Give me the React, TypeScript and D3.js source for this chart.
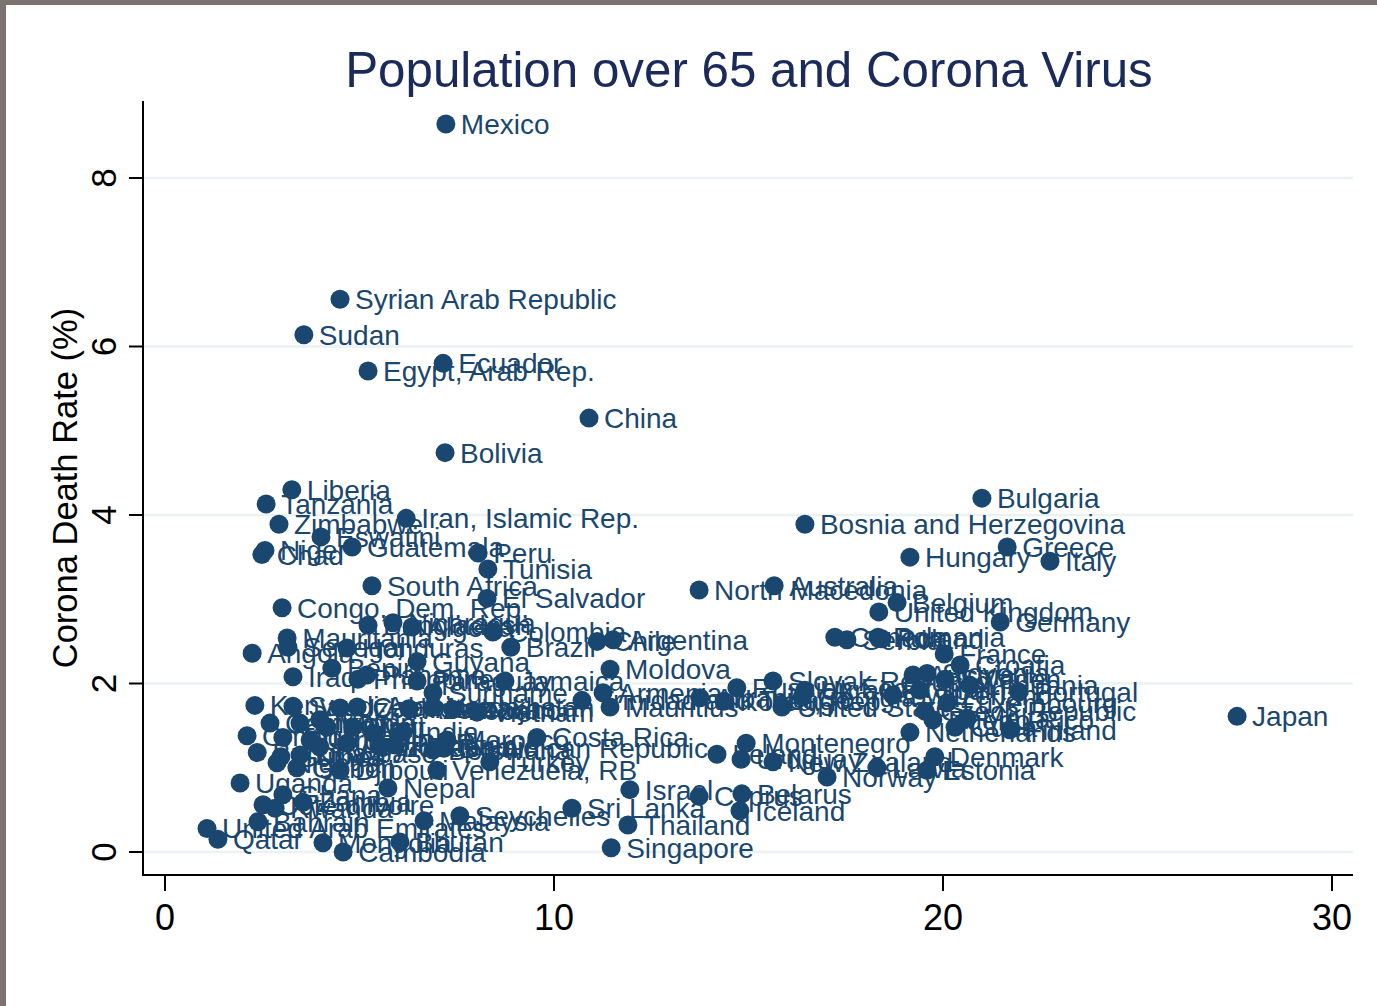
import React from 'react';
import * as d3 from 'd3';

const countries = [
  'Mexico','Syrian Arab Republic','Sudan','Ecuador','Egypt, Arab Rep.','China','Bolivia','Liberia','Tanzania','Zimbabwe',
  'Iran, Islamic Rep.','Eswatini','Guatemala','Niger','Chad','Peru','Tunisia','South Africa','El Salvador','Congo, Dem. Rep.',
  'Bangladesh','Nicaragua','Algeria','Colombia','Mauritania','Senegal','Angola','Honduras','Brazil','Chile',
  'Argentina','Guyana','Moldova','Benin','Iraq','Philippines','Panama','Paraguay','Suriname','Jamaica',
  'Trinidad and Tobago','Armenia','Mauritius','Russian Federation','Albania','Korea, Rep.','Slovak Republic','United States','North Macedonia','Australia',
  'Bosnia and Herzegovina','Bulgaria','Greece','Hungary','Italy','Belgium','United Kingdom','Germany','Canada','Serbia',
  'Romania','Poland','France','Croatia','Austria','Slovenia','Sweden','Switzerland','Spain','Lithuania',
  'Portugal','Luxembourg','Czech Republic','Malta','Puerto Rico','Cuba','Finland','Netherlands','Denmark','Estonia',
  'Norway','Latvia','Japan','Ukraine','Georgia','Montenegro','Uruguay','Ireland','New Zealand','Cyprus',
  'Belarus','Iceland','Israel','Sri Lanka','Thailand','Singapore','Seychelles','Malaysia','Bhutan','Mongolia',
  'Cambodia','Qatar','United Arab Emirates','Bahrain',"Cote d'Ivoire",'Rwanda','Ghana','Zambia','Uganda','Nepal',
  'Oman','Kenya','Burkina Faso','Cameroon','Nigeria','Guinea','Togo','Saudi Arabia','Gabon','Ethiopia',
  'Libya','Jordan','Kyrgyz Republic','Kuwait','Djibouti','Uzbekistan','Lao PDR','Haiti','Cabo Verde','Fiji',
  'Indonesia','India','Azerbaijan','Kazakhstan','Dominican Republic','Venezuela, RB','Lebanon','Vietnam','Turkey','Costa Rica',
  'Morocco','Pakistan','Botswana','Mali'
];

const pop65 = [
  7.22,4.50,3.57,7.15,5.22,10.90,7.20,3.26,2.60,2.93,
  6.20,4.01,4.81,2.57,2.49,8.05,8.30,5.32,8.28,3.01,
  5.22,5.86,6.35,8.43,3.14,3.16,2.24,4.68,8.89,11.11,
  11.52,6.48,11.44,4.29,3.29,4.96,5.19,6.48,6.89,8.74,
  10.72,11.26,11.44,14.70,13.75,14.37,15.63,15.86,13.73,15.66,
  16.45,21.00,21.65,19.15,22.75,18.82,18.35,21.47,17.22,17.53,
  18.33,18.43,20.03,20.44,19.23,19.59,20.05,18.71,19.41,20.69,
  21.95,20.10,19.54,20.62,19.74,20.31,21.72,19.15,19.79,19.59,
  17.02,18.30,27.56,16.45,16.38,14.94,14.81,14.19,15.63,13.73,
  14.83,14.78,11.95,10.46,11.90,11.47,7.58,6.66,6.04,4.06,
  4.58,1.36,1.08,2.39,2.52,2.83,3.03,3.55,1.93,5.73,
  2.11,2.31,2.37,2.70,2.88,2.98,3.03,3.29,3.39,3.47,
  3.47,3.73,3.98,4.16,4.50,4.50,4.68,4.83,4.94,5.35,
  5.53,6.12,6.27,6.89,7.17,6.99,7.40,8.02,8.35,9.56,
  7.25,5.91,6.89,3.98
];

const deathRate = [
  8.64,6.56,6.14,5.80,5.71,5.15,4.74,4.30,4.13,3.89,
  3.96,3.74,3.62,3.58,3.53,3.55,3.36,3.16,3.01,2.90,
  2.69,2.72,2.67,2.61,2.54,2.43,2.36,2.42,2.43,2.50,
  2.52,2.26,2.17,2.18,2.08,2.05,2.10,2.03,1.89,2.03,
  1.80,1.89,1.72,1.95,1.83,1.79,2.03,1.72,3.11,3.16,
  3.89,4.20,3.62,3.50,3.45,2.96,2.85,2.73,2.55,2.52,
  2.55,2.53,2.35,2.22,2.10,2.12,2.05,1.86,1.92,1.98,
  1.90,1.77,1.67,1.59,1.57,1.48,1.45,1.42,1.13,0.97,
  0.89,1.00,1.61,1.92,1.84,1.29,1.10,1.16,1.07,0.66,
  0.69,0.49,0.74,0.52,0.32,0.05,0.43,0.37,0.12,0.11,
  0.00,0.15,0.28,0.36,0.56,0.52,0.68,0.59,0.82,0.76,
  1.38,1.74,1.18,1.53,1.06,1.13,1.36,1.73,1.00,1.53,
  1.15,1.33,1.25,1.48,0.97,1.71,1.29,1.48,1.72,1.41,
  1.25,1.42,1.70,1.72,1.23,0.97,1.69,1.66,1.07,1.36,
  1.33,1.27,1.21,1.57
];

const xTicks = [0, 10, 20, 30];
const yTicks = [0, 2, 4, 6, 8];
const titleText = 'Population over 65 and Corona Virus';
const yTitleText = 'Corona Death Rate (%)';

export default function App() {
  const W = 1377, H = 1006;
  const plotL = 143, plotR = 1353, plotT = 101, plotB = 875;
  const x = d3.scaleLinear().domain([0, 30]).range([165, 1332]);
  const y = d3.scaleLinear().domain([0, 8]).range([852, 178]);
  const mark = '#1a476f';
  const font = '"Liberation Sans", Arial, sans-serif';
  const data = countries.map((c, i) => ({ c, px: x(pop65[i]), py: y(deathRate[i]) }));

  return (
    <svg width={W} height={H} style={{ position: 'absolute', left: 0, top: 0, background: '#fff' }} fontFamily={font}>
      <rect x={0} y={0} width={W} height={H} fill="#ffffff" />
      <rect x={0} y={0} width={W} height={5} fill="#7b7371" />
      <rect x={0} y={0} width={6} height={H} fill="#7b7371" />

      {yTicks.map(t => (
        <line key={'g' + t} x1={plotL} x2={plotR} y1={y(t)} y2={y(t)} stroke="#eaf2f3" strokeWidth={2.5} />
      ))}

      <text x={(plotL + plotR) / 2 + 1} y={87} textAnchor="middle" fontSize={49.3} fill="#1a2a5a">{titleText}</text>

      <line x1={plotL} x2={plotL} y1={plotT} y2={plotB} stroke="#000" strokeWidth={2} />
      <line x1={plotL - 1} x2={plotR} y1={plotB} y2={plotB} stroke="#000" strokeWidth={2} />
      {yTicks.map(t => (
        <g key={'yt' + t}>
          <line x1={plotL - 14} x2={plotL} y1={y(t)} y2={y(t)} stroke="#000" strokeWidth={2} />
          <text transform={`translate(${116},${y(t)}) rotate(-90)`} textAnchor="middle" fontSize={35} fill="#000">{t}</text>
        </g>
      ))}
      {xTicks.map(t => (
        <g key={'xt' + t}>
          <line x1={x(t)} x2={x(t)} y1={plotB} y2={plotB + 16} stroke="#000" strokeWidth={2} />
          <text x={x(t)} y={930} textAnchor="middle" fontSize={36} fill="#000">{t}</text>
        </g>
      ))}
      <text transform={`translate(77,${(plotT + plotB) / 2}) rotate(-90)`} textAnchor="middle" fontSize={34.5} fill="#000">{yTitleText}</text>

      {data.map((d, i) => (
        <text key={'l' + i} x={d.px + 15} y={d.py + 10} fontSize={28} fill={mark}>{d.c}</text>
      ))}
      {data.map((d, i) => (
        <circle key={'m' + i} cx={d.px} cy={d.py} r={9.5} fill={mark} />
      ))}
    </svg>
  );
}
